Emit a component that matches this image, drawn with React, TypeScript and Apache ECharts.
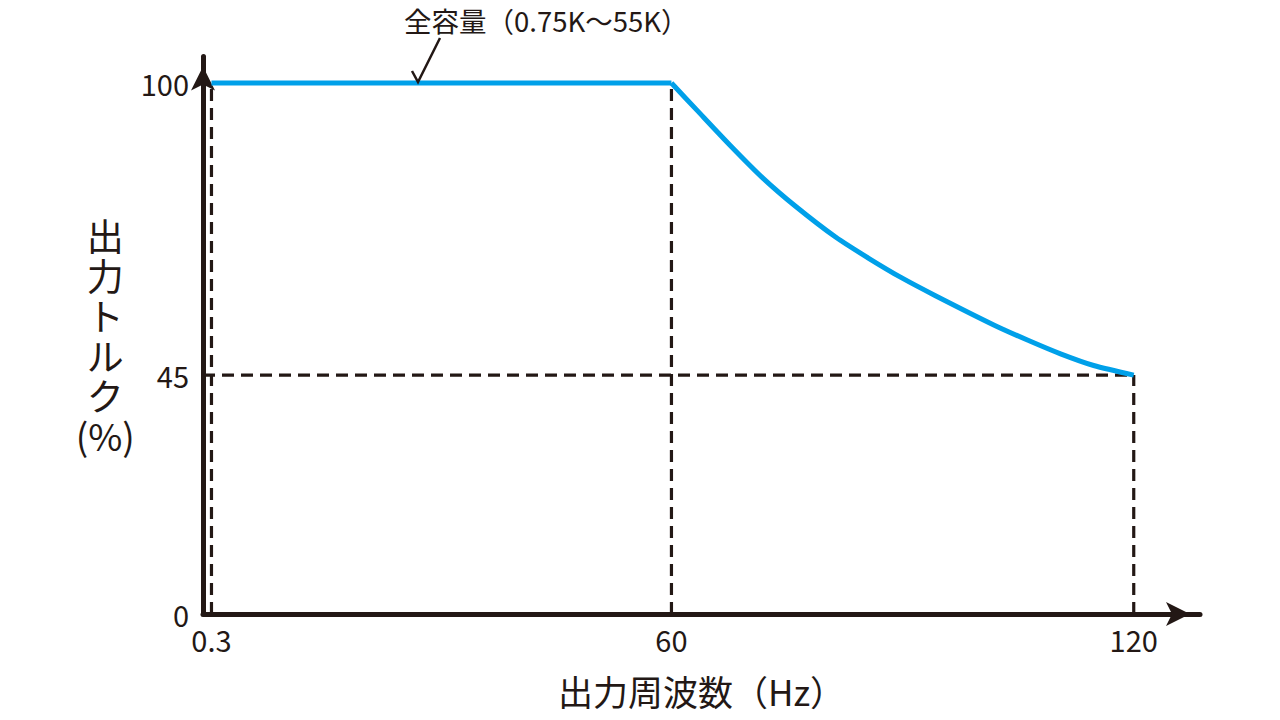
import React, { useEffect, useRef } from "react";
import * as echarts from "echarts";

const flatFreq = [0.3, 60];
const flatTorque = [100, 100];
const curveFreq = [60, 63.3, 67.6, 71.8, 76.1, 81.3, 85.6, 89.9, 94.2, 101.9, 106.2, 110.5, 114.8, 120];
const curveTorque = [100, 94.9, 88.3, 82.2, 76.8, 71.0, 67.0, 63.3, 60.0, 54.4, 51.6, 49.0, 46.8, 45];
const xTicks = [0.3, 60, 120];
const yTicks = [0, 45, 100];
const guideV03 = [[0.3, 0], [0.3, 100]];
const guideV60 = [[60, 0], [60, 100]];
const guideV120 = [[120, 0], [120, 45]];
const guideH45 = [[-0.8, 45], [120, 45]];
const annotation = "全容量（0.75K～55K）";
const xName = "出力周波数（Hz）";
const yName = "出\n力\nト\nル\nク\n(%)";

const INK = "#231815";
const BLUE = "#00a0e9";
const FONT = "'Noto Sans CJK JP', 'Noto Sans', sans-serif";

export default function App() {
  const ref = useRef<HTMLDivElement>(null);
  useEffect(() => {
    if (!ref.current) return;
    const chart = echarts.init(ref.current, undefined, { renderer: "svg" });
    const dashed = (data: number[][]) => ({
      type: "line",
      data,
      symbol: "none",
      silent: true,
      lineStyle: { color: INK, width: 3.2, type: [12, 7] },
      z: 1,
    });
    chart.setOption({
      animation: false,
      backgroundColor: "#ffffff",
      textStyle: { fontFamily: FONT, color: INK },
      grid: { left: 203, right: 80, top: 56.5, bottom: 106 },
      xAxis: {
        type: "value",
        min: -0.8,
        max: 128.6,
        name: xName,
        nameLocation: "middle",
        nameGap: 76,
        nameTextStyle: { fontSize: 35, color: INK, fontFamily: FONT, verticalAlign: "middle" },
        axisLine: {
          show: true,
          onZero: false,
          symbol: ["none", "arrow"],
          symbolSize: [18, 24],
          symbolOffset: [0, -10],
          lineStyle: { color: INK, width: 5 },
        },
        axisTick: { show: false },
        splitLine: { show: false },
        axisLabel: {
          customValues: xTicks,
          fontSize: 29,
          color: INK,
          fontFamily: FONT,
          margin: 10,
          formatter: (v: number) => String(v),
        },
      },
      yAxis: {
        type: "value",
        min: 0,
        max: 105,
        name: yName,
        nameLocation: "middle",
        nameRotate: 0,
        nameGap: 91,
        nameTextStyle: {
          fontSize: 37,
          color: INK,
          fontFamily: FONT,
          align: "center",
          verticalAlign: "middle",
          lineHeight: 40,
        },
        axisLine: {
          show: true,
          onZero: false,
          symbol: ["none", "arrow"],
          symbolSize: [18, 24],
          symbolOffset: [0, -10],
          lineStyle: { color: INK, width: 5 },
        },
        axisTick: { show: false },
        splitLine: { show: false },
        axisLabel: {
          customValues: yTicks,
          fontSize: 29,
          color: INK,
          fontFamily: FONT,
          margin: 14,
        },
      },
      series: [
        dashed(guideV03),
        dashed(guideV60),
        dashed(guideV120),
        dashed(guideH45),
        {
          type: "line",
          data: flatFreq.map((f, i) => [f, flatTorque[i]]),
          symbol: "none",
          lineStyle: { color: BLUE, width: 5 },
          z: 3,
        },
        {
          type: "line",
          data: curveFreq.map((f, i) => [f, curveTorque[i]]),
          symbol: "none",
          smooth: 0.25,
          lineStyle: { color: BLUE, width: 5 },
          z: 3,
        },
      ],
      graphic: [
        {
          type: "text",
          left: 404,
          top: 6,
          style: { text: annotation, fontSize: 27.5, fill: INK, fontFamily: FONT },
        },
        {
          type: "polyline",
          shape: { points: [[412, 71], [418, 82], [440, 38]] },
          style: { stroke: INK, lineWidth: 2.5, fill: "none" },
          z: 10,
        },
      ],
    });
    return () => chart.dispose();
  }, []);
  return (
    <div
      ref={ref}
      style={{ position: "fixed", left: 0, top: 0, width: 1280, height: 720, background: "#fff" }}
    />
  );
}
